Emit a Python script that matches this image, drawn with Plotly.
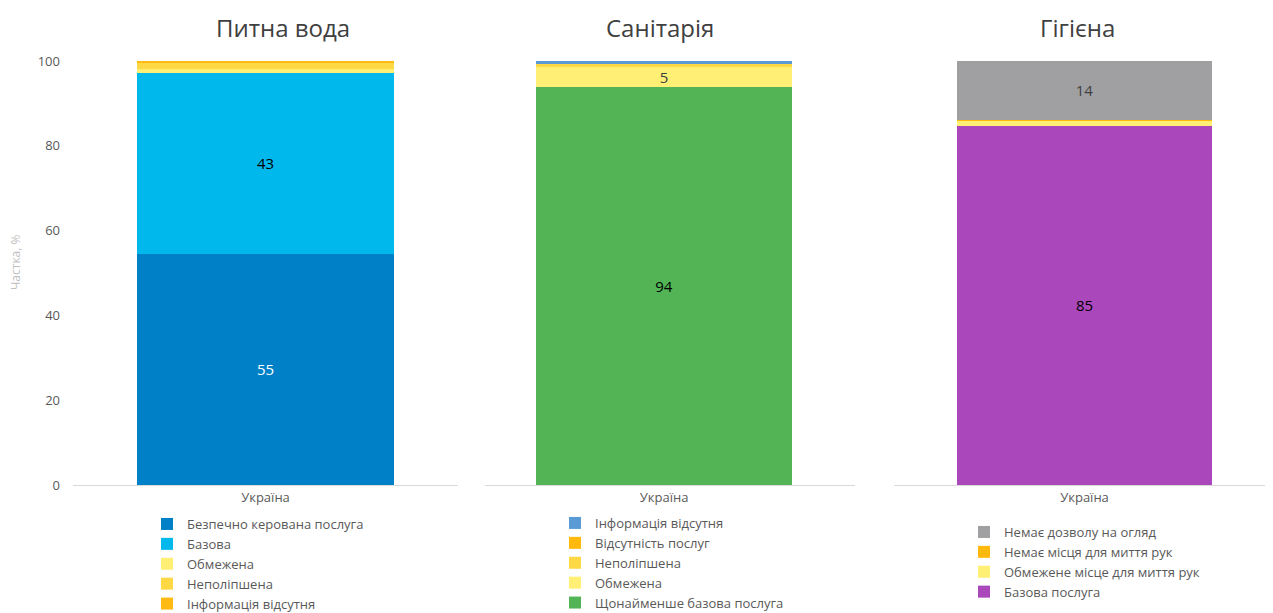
import plotly.graph_objects as go

category = ["Україна"]

# Питна вода (bottom to top)
water_names = ["Безпечно керована послуга", "Базова", "Обмежена", "Неполіпшена", "Інформація відсутня"]
water_values = [54.6, 42.6, 1.0, 1.6, 0.2]
water_colors = ["#0080C6", "#00B8EC", "#FFEF75", "#FFD945", "#FFBA14"]
water_labels = [True, True, False, False, False]
water_label_colors = ["#FFFFFF", "#000000", "#404040", "#404040", "#404040"]

# Санітарія (bottom to top)
san_names = ["Щонайменше базова послуга", "Обмежена", "Неполіпшена", "Відсутність послуг", "Інформація відсутня"]
san_values = [93.9, 4.7, 0.9, 0.0, 0.5]
san_colors = ["#52B454", "#FFEF75", "#FFD945", "#FFB80C", "#5B9BD5"]
san_labels = [True, True, False, False, False]
san_label_colors = ["#000000", "#404040", "#404040", "#404040", "#404040"]

# Гігієна (bottom to top)
hyg_names = ["Базова послуга", "Обмежене місце для миття рук", "Немає місця для миття рук", "Немає дозволу на огляд"]
hyg_values = [84.9, 1.2, 0.2, 13.8]
hyg_colors = ["#AA47BB", "#FFEF75", "#FFB80C", "#A0A0A3"]
hyg_labels = [True, False, False, True]
hyg_label_colors = ["#000000", "#404040", "#404040", "#404040"]

titles = ["Питна вода", "Санітарія", "Гігієна"]

# page body has an 8px margin; figure is sized to fit the viewport
OFF = 8
W, H = 1265, 605
FONT = "Open Sans"


def fx(p):
    return (p - OFF) / W


def fy(p):
    return 1 - (p - OFF) / H


fig = go.Figure()

groups = [
    (water_names, water_values, water_colors, water_labels, water_label_colors, "x", "y", "legend", 0.668),
    (san_names, san_values, san_colors, san_labels, san_label_colors, "x2", "y2", "legend2", 0.69),
    (hyg_names, hyg_values, hyg_colors, hyg_labels, hyg_label_colors, "x3", "y3", "legend3", 0.675),
]

for names, vals, cols, labs, lcols, xa, ya, lg, bw in groups:
    for n, v, c, lab, lc in zip(names, vals, cols, labs, lcols):
        fig.add_trace(go.Bar(
            x=category, y=[v], name=n, marker=dict(color=c, line=dict(width=0)),
            xaxis=xa, yaxis=ya, legend=lg, width=bw,
            text=[v] if lab else None,
            texttemplate="%{y:.0f}" if lab else None,
            textposition="inside" if lab else "none",
            insidetextanchor="middle",
            textangle=0,
            constraintext="none",
            textfont=dict(family=FONT, size=15, color=lc),
            hoverinfo="name+y",
        ))

ydom = [fy(485), fy(485 - 102 * 4.24)]

axis_common = dict(showgrid=False, zeroline=False, showline=True, linecolor="#D9D9D9", linewidth=1,
                   ticks="", tickfont=dict(family=FONT, size=13, color="#595959"), fixedrange=True)
yax_common = dict(range=[0, 102], showgrid=False, zeroline=False, showline=False, fixedrange=True, domain=ydom)

leg_common = dict(xanchor="left", yanchor="top", itemwidth=30, tracegroupgap=0,
                  font=dict(family=FONT, size=13, color="#595959"),
                  bgcolor="rgba(0,0,0,0)", itemclick=False, itemdoubleclick=False)

fig.update_layout(
    width=W, height=H,
    margin=dict(l=0, r=0, t=0, b=0, autoexpand=False),
    paper_bgcolor="white", plot_bgcolor="white",
    barmode="stack",
    bargap=0,
    font=dict(family=FONT, color="#595959"),
    xaxis=dict(domain=[fx(73), fx(458)], anchor="y", range=[-0.5, 0.5], **axis_common),
    xaxis2=dict(domain=[fx(485), fx(855)], anchor="y2", range=[-0.484, 0.516], **axis_common),
    xaxis3=dict(domain=[fx(894), fx(1272)], anchor="y3", range=[-0.504, 0.496], **axis_common),
    yaxis=dict(anchor="x", tickvals=[0, 20, 40, 60, 80, 100], ticks="", ticklabelstandoff=12,
               tickfont=dict(family=FONT, size=13, color="#595959"), **yax_common),
    yaxis2=dict(anchor="x2", showticklabels=False, **yax_common),
    yaxis3=dict(anchor="x3", showticklabels=False, **yax_common),
    legend=dict(x=fx(147), y=fy(509), traceorder="normal", **leg_common),
    legend2=dict(x=fx(555), y=fy(508), traceorder="reversed", **leg_common),
    legend3=dict(x=fx(964), y=fy(517), traceorder="reversed", **leg_common),
    showlegend=True,
)

title_x = [283, 660, 1077]
for t, xc in zip(titles, title_x):
    fig.add_annotation(text=t, x=fx(xc), y=fy(9), xref="paper", yref="paper",
                       xanchor="center", yanchor="top", showarrow=False,
                       font=dict(family=FONT, size=24, color="#404040"))

fig.add_annotation(text="Частка, %", x=fx(16), y=fy(263), xref="paper", yref="paper",
                   xanchor="center", yanchor="middle", showarrow=False, textangle=-90,
                   font=dict(family=FONT, size=12, color="#BFBFBF"))

fig.write_html("out.html")
